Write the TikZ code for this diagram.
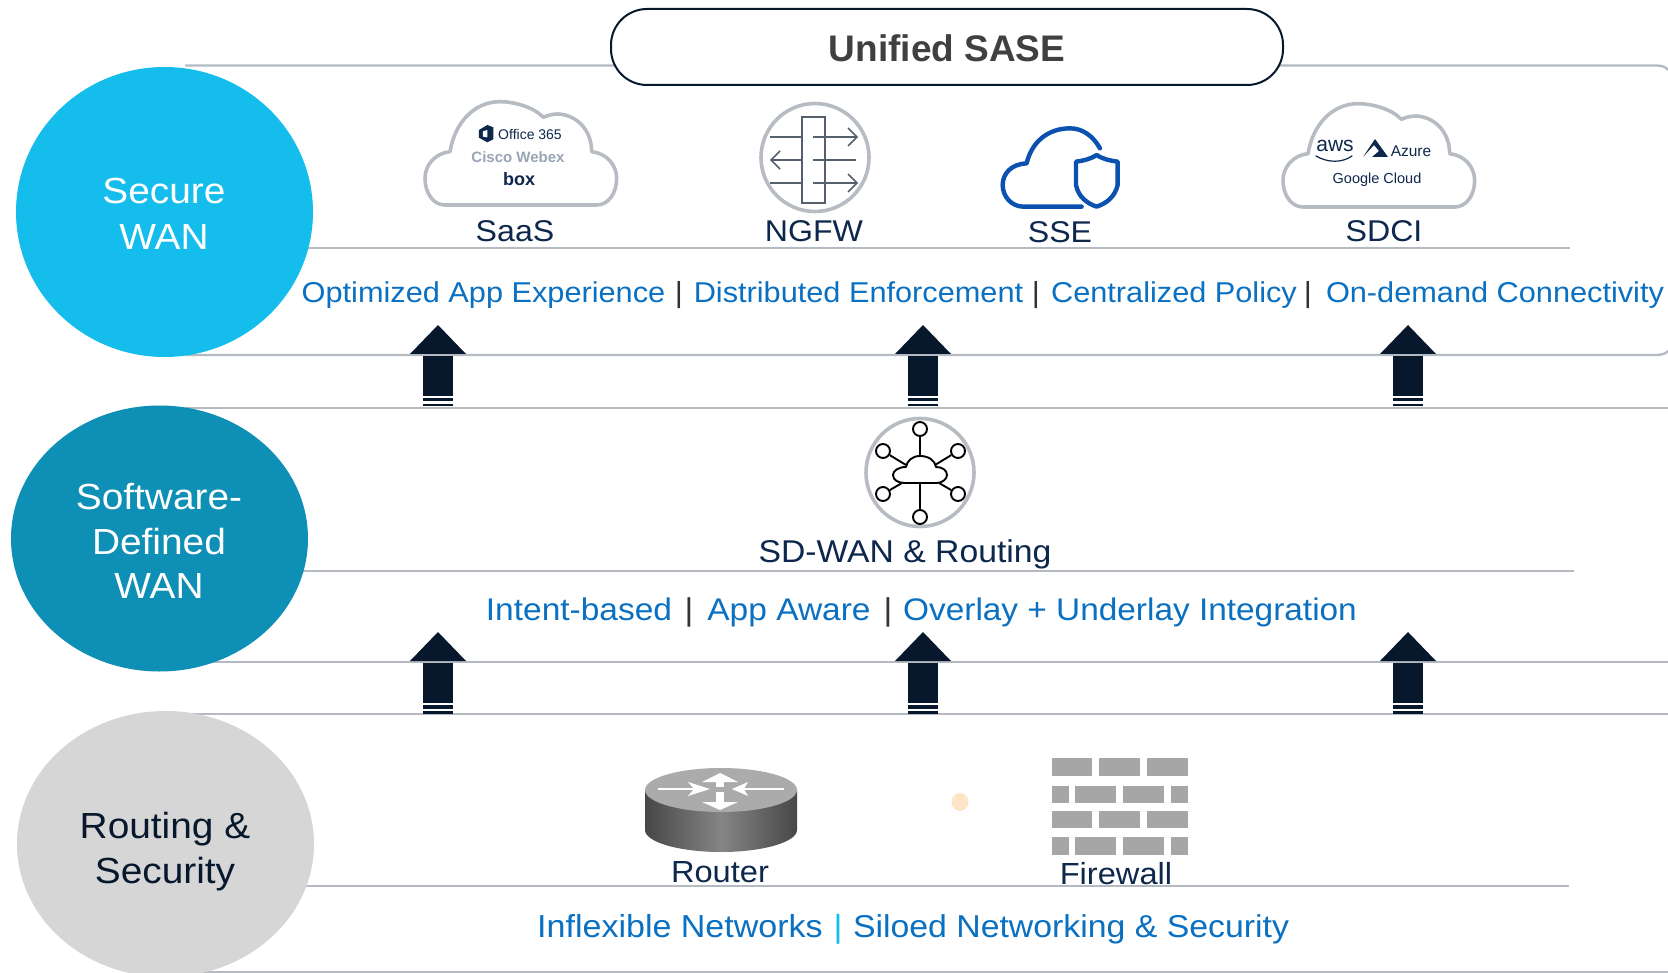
\documentclass[tikz,border=0pt]{standalone}
\usepackage{fontspec}
\setmainfont[FakeStretch=1.07]{Liberation Sans}
\newfontfamily\plainf{Liberation Sans}
\usetikzlibrary{arrows.meta,shapes.geometric}
\definecolor{navy}{HTML}{0D274D}
\definecolor{dark}{HTML}{07182D}
\definecolor{bluetxt}{HTML}{0A70C2}
\definecolor{rulegray}{HTML}{B5B9C2}
\definecolor{iconring}{HTML}{B7BCC3}
\definecolor{iconline}{HTML}{56606C}
\definecolor{sseblue}{HTML}{0B52B0}
\definecolor{brick}{HTML}{A6A6A6}
\definecolor{layerA}{HTML}{14BDEC}
\definecolor{layerB}{HTML}{0E8FB5}
\definecolor{layerC}{HTML}{D6D6D6}
\definecolor{dotc}{HTML}{FDE5C8}
\definecolor{sepdark}{HTML}{333333}
\newcommand{\fs}[1]{\fontsize{#1}{#1}\selectfont}
\tikzset{
 x=1pt,y=-1pt,
 ruleline/.style={draw=rulegray,line width=2.3},
 layercirc/.style={ellipse,draw=none,inner sep=0},
 circtext/.style={font=\fs{36.3},inner sep=0,anchor=base},
 valuetxt/.style={font=\fs{28.7},text=bluetxt,inner sep=0,anchor=base},
 septxt/.style={font=\fs{29},text=sepdark,inner sep=0,anchor=base},
 icontxt/.style={font=\fs{30},text=navy,inner sep=0,anchor=base},
 smalltxt/.style={text=navy,inner sep=0},
 ring/.style={draw=iconring,line width=3.6,fill=white},
 cloudline/.style={draw=iconring,line width=3.6,line join=round},
 upshaft/.style={fill=dark,draw=none},
 fwline/.style={draw=iconline,line width=1.7},
 wanline/.style={draw=black,line width=1.9},
 hub/.style={circle,draw=black,line width=1.9,fill=white,minimum size=14,inner sep=0},
}
\newcommand{\cloudshape}{(135,345) -- (590,345) .. controls (625,345) and (650,310) .. (650,265) .. controls (650,225) and (620,190) .. (575,185) .. controls (575,120) and (530,75) .. (475,72) .. controls (460,72) and (445,75) .. (430,82) .. controls (400,50) and (340,35) .. (300,35) .. controls (225,35) and (165,95) .. (150,185) .. controls (105,190) and (75,225) .. (75,265) .. controls (75,310) and (100,345) .. (135,345) -- cycle}
\newcommand{\uparrowmark}[2]{%
 \fill[upshaft] (#1-28,#2+29) -- (#1,#2) -- (#1+28,#2+29) -- cycle;
 \fill[upshaft] (#1-15,#2+31) rectangle (#1+15,#2+71);
 \fill[upshaft] (#1-15,#2+73) rectangle (#1+15,#2+76.5);
 \fill[upshaft] (#1-15,#2+79) rectangle (#1+15,#2+81.5);
}
\begin{document}
\begin{tikzpicture}
\useasboundingbox (0,0) rectangle (1668,973);
\fill[white] (0,0) rectangle (1668,973);
% rules
\draw[ruleline] (185,65.5) -- (1656,65.5) .. controls (1662,65.5) and (1666,67) .. (1668,70);
\draw[ruleline] (185,355) -- (1656,355) .. controls (1662,355) and (1666,353.5) .. (1668,351);
\draw[ruleline] (300,248) -- (1570,248);
\draw[ruleline] (185,408) -- (1668,408);
\draw[ruleline] (300,571) -- (1574,571);
\draw[ruleline] (185,662) -- (1668,662);
\draw[ruleline] (185,714) -- (1668,714);
\draw[ruleline] (300,886) -- (1569,886);
\draw[ruleline] (185,972) -- (1668,972);
% header
\node[draw=dark,line width=2,fill=white,rounded corners=36,minimum width=672,minimum height=76,inner sep=0] (hdr) at (947,47) {};
\node[font=\plainf\bfseries\fs{37},text=black!75,inner sep=0,anchor=base] (hdrt) at (947,62) {Unified SASE};
% layer circles
\node[layercirc,fill=layerA,minimum width=297,minimum height=290] (cA) at (164.5,212) {};
\node[layercirc,fill=layerB,minimum width=297,minimum height=266] (cB) at (159.5,538.5) {};
\node[layercirc,fill=layerC,minimum width=297,minimum height=266] (cC) at (165.5,844) {};
\node[circtext,text=white] (cA1) at (164,204) {Secure};
\node[circtext,text=white] (cA2) at (164,250) {WAN};
\node[circtext,text=white] (cB1) at (159,509) {Software-};
\node[circtext,text=white] (cB2) at (159,554.5) {Defined};
\node[circtext,text=white] (cB3) at (159,598.5) {WAN};
\node[circtext,text=dark] (cC1) at (165,838) {Routing \&};
\node[circtext,text=dark] (cC2) at (165,883) {Security};
% arrows
\uparrowmark{438}{325}
\uparrowmark{923}{325}
\uparrowmark{1408}{325}
\uparrowmark{438}{632}
\uparrowmark{923}{632}
\uparrowmark{1408}{632}
% SaaS cloud
\begin{scope}[shift={(400,90)},x=0.3333pt,y=-0.3333pt]
 \draw[cloudline] \cloudshape;
 \fill[navy] (237,120) -- (262,105) -- (280,112) -- (280,148) -- (262,157) -- (237,143) -- cycle;
 \fill[white] (249,124) -- (262,120) -- (262,142) -- (249,140) -- cycle;
\end{scope}
\node[smalltxt,font=\plainf\fs{14}] (o365) at (530,134) {Office 365};
\node[inner sep=0,font=\plainf\bfseries\fs{15},text=navy!42] (webex) at (518,157) {Cisco Webex};
\node[smalltxt,font=\plainf\bfseries\fs{18}] (boxt) at (519,179) {box};
% SDCI cloud
\begin{scope}[shift={(1258,92)},x=0.3333pt,y=-0.3333pt]
 \draw[cloudline] \cloudshape;
\end{scope}
\node[smalltxt,font=\plainf\fs{21}] (aws) at (1335,146) {aws};
\draw[navy,line width=1.2,line cap=round] (1316,156) .. controls (1328,163) and (1342,163) .. (1352,156);
\fill[navy] (1363,157) -- (1375,139) -- (1388,157) -- (1372,157) -- (1379,151) -- (1374,145) -- cycle;
\node[smalltxt,font=\plainf\fs{15.5}] (azure) at (1411,151) {Azure};
\node[smalltxt,font=\plainf\fs{14.5}] (gcloud) at (1377,180) {Google Cloud};
% NGFW icon
\node[circle,ring,minimum size=108,inner sep=0] (ngfw) at (815,157.5) {};
\draw[fwline,fill=white] (802,117) rectangle (825,203);
\draw[fwline] (770,137) -- (802,137);
\draw[fwline] (813,137) -- (857,137);
\draw[fwline] (857,137) ++(-9,-9) -- ++(9,9) -- ++(-9,9);
\draw[fwline] (771,160) -- (802,160);
\draw[fwline] (813,160) -- (856,160);
\draw[fwline] (771,160) ++(9,-9) -- ++(-9,9) -- ++(9,9);
\draw[fwline] (770,183) -- (802,183);
\draw[fwline] (813,183) -- (857,183);
\draw[fwline] (857,183) ++(-9,-9) -- ++(9,9) -- ++(-9,9);
% SSE icon
\begin{scope}[shift={(980,90)},x=0.3333pt,y=-0.3333pt]
 \draw[sseblue,line width=4.4,line cap=round,line join=round] (305,350) -- (130,350) .. controls (95,350) and (68,320) .. (68,285) .. controls (68,250) and (95,222) .. (140,220) .. controls (155,155) and (205,115) .. (270,115) .. controls (310,115) and (340,140) .. (360,175);
 \draw[sseblue,line width=4.4,line join=round] (350,195) .. controls (330,208) and (310,212) .. (288,215) -- (288,285) .. controls (295,320) and (320,340) .. (350,350) .. controls (380,340) and (405,320) .. (413,285) -- (413,215) .. controls (390,212) and (370,208) .. (350,195) -- cycle;
\end{scope}
% labels row 1
\node[icontxt] (saas) at (515,241.5) {SaaS};
\node[icontxt] (ngfwl) at (814,241.5) {NGFW};
\node[icontxt] (ssel) at (1060,243) {SSE};
\node[icontxt] (sdci) at (1384,241.5) {SDCI};
\node[valuetxt] (v1) at (483.5,303) {Optimized App Experience};
\node[septxt] (s1) at (679,303) {|};
\node[valuetxt] (v2) at (858.5,303) {Distributed Enforcement};
\node[septxt] (s2) at (1036,303) {|};
\node[valuetxt] (v3) at (1174,303) {Centralized Policy};
\node[septxt] (s3) at (1308,303) {|};
\node[valuetxt] (v4) at (1495,303) {On-demand Connectivity};
% SD-WAN icon
\node[circle,ring,minimum size=108,inner sep=0] (wan) at (920,472.5) {};
\node[hub] (h1) at (920,429) {};
\node[hub] (h2) at (883,451) {};
\node[hub] (h3) at (958,451) {};
\node[hub] (h4) at (883,494) {};
\node[hub] (h5) at (958,494) {};
\node[hub] (h6) at (920,517) {};
\draw[wanline] (h1) -- (920,456);
\draw[wanline] (h2) -- (906,465);
\draw[wanline] (h3) -- (935,465);
\draw[wanline] (h4) -- (902,483);
\draw[wanline] (h5) -- (939,483);
\draw[wanline] (h6) -- (920,483);
\draw[wanline,fill=white,line join=round] (905,483) -- (937,483) .. controls (942,483) and (947,479) .. (947,475) .. controls (947,470) and (942,467) .. (936,467) .. controls (935,460) and (928,456) .. (920,456) .. controls (912,456) and (907,461) .. (906,467) .. controls (898,467) and (893,471) .. (893,475) .. controls (893,480) and (898,483) .. (905,483) -- cycle;
\node[icontxt,font=\fs{31.5},text=navy] (wanl) at (905,562.5) {SD-WAN \& Routing};
\node[valuetxt,font=\fs{31.3}] (w1) at (579,620.5) {Intent-based};
\node[septxt,font=\fs{31.5}] (ws1) at (689,620.5) {|};
\node[valuetxt,font=\fs{31.3}] (w2) at (789,620.5) {App Aware};
\node[septxt,font=\fs{31.5}] (ws2) at (888,620.5) {|};
\node[valuetxt,font=\fs{31.2}] (w3) at (1130,620.5) {Overlay + Underlay Integration};
% router
\shade[left color=black!72,right color=black!72,middle color=black!48] (645,790) -- (645,830) .. controls (645,842) and (679,852) .. (721,852) .. controls (763,852) and (797,842) .. (797,830) -- (797,790) -- cycle;
\fill[black!33] (721,790) ellipse [x radius=76,y radius=22];
\draw[white,line width=1.6] (658,789) -- (700,789);
\draw[white,line width=1.6] (742,789) -- (784,789);
\fill[white] (710,789) -- (688,782) -- (694,789) -- (688,796) -- cycle;
\fill[white] (732,789) -- (748,782) -- (744,789) -- (748,796) -- cycle;
\fill[white] (720,773) -- (702,782) -- (738,782) -- cycle;
\fill[white] (716,782) rectangle (724,787);
\fill[white] (716,792) rectangle (724,802);
\fill[white] (720,810) -- (702,802) -- (738,802) -- cycle;
% dot
\fill[dotc] (960,802) ellipse [x radius=8.5,y radius=9];
% firewall
\foreach \ya/\yb in {757.5/775.5,810.5/827.5} {
 \fill[brick] (1051.6,\ya) rectangle (1092.3,\yb);
 \fill[brick] (1099,\ya) rectangle (1139.7,\yb);
 \fill[brick] (1146.9,\ya) rectangle (1187.6,\yb);
}
\foreach \ya/\yb in {786/803,837/855} {
 \fill[brick] (1051.6,\ya) rectangle (1068.6,\yb);
 \fill[brick] (1075,\ya) rectangle (1116,\yb);
 \fill[brick] (1123,\ya) rectangle (1164,\yb);
 \fill[brick] (1171,\ya) rectangle (1187.6,\yb);
}
\node[icontxt,font=\fs{30.5}] (routerl) at (720,882.5) {Router};
\node[icontxt,font=\fs{30.5}] (fwl) at (1116,884) {Firewall};
\node[valuetxt,font=\fs{31.8}] (r1) at (680,937) {Inflexible Networks};
\node[valuetxt,font=\fs{32},text=layerA] (rs) at (838,937) {|};
\node[valuetxt,font=\fs{31.6}] (r2) at (1071,937) {Siloed Networking \& Security};
\end{tikzpicture}
\end{document}
